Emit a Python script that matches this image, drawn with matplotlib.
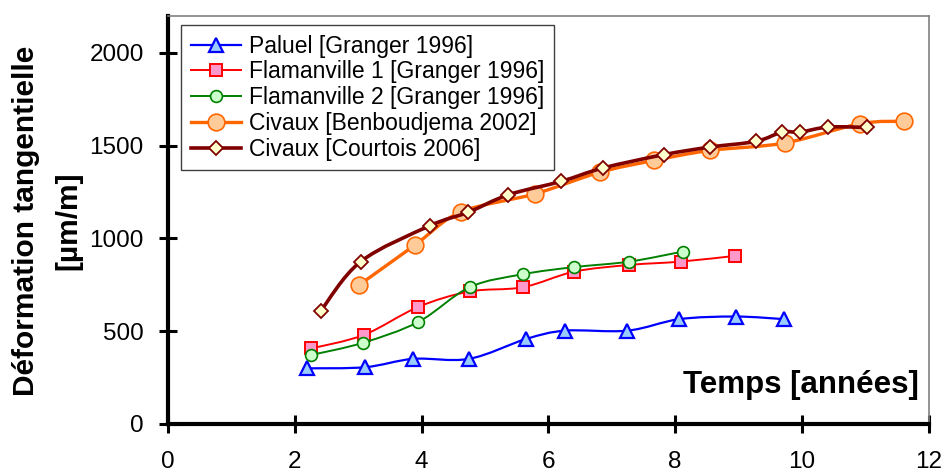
import numpy as np
import matplotlib
matplotlib.use("Agg")
import matplotlib.pyplot as plt
from matplotlib.path import Path
from matplotlib.patches import PathPatch
from matplotlib.lines import Line2D

plt.rcParams['font.family'] = ['Liberation Sans', 'DejaVu Sans']

# ---- data ----
paluel_x = [2.19, 3.11, 3.87, 4.75, 5.65, 6.27, 7.25, 8.07, 8.96, 9.72]
paluel_y = [300, 306, 351, 351, 458, 503, 503, 565, 579, 565]

flam1_x = [2.26, 3.09, 3.95, 4.76, 5.60, 6.41, 7.28, 8.09, 8.95]
flam1_y = [407, 480, 631, 714, 737, 821, 857, 875, 906]

flam2_x = [2.26, 3.07, 3.95, 4.76, 5.60, 6.40, 7.28, 8.12]
flam2_y = [372, 437, 550, 737, 807, 845, 875, 929]

civ_b_x = [3.02, 3.90, 4.62, 5.79, 6.81, 7.67, 8.55, 9.73, 10.92, 11.62]
civ_b_y = [750, 965, 1142, 1240, 1356, 1420, 1474, 1514, 1618, 1631]

civ_c_x = [2.41, 3.04, 4.13, 4.73, 5.37, 6.20, 6.86, 7.82, 8.55, 9.28, 9.69, 9.97, 10.42, 11.03]
civ_c_y = [609, 875, 1068, 1140, 1235, 1307, 1379, 1451, 1492, 1523, 1573, 1573, 1600, 1598]

labels = ["Paluel [Granger 1996]", "Flamanville 1 [Granger 1996]",
          "Flamanville 2 [Granger 1996]", "Civaux [Benboudjema 2002]",
          "Civaux [Courtois 2006]"]

x_ticks = [0, 2, 4, 6, 8, 10, 12]
y_ticks = [0, 500, 1000, 1500, 2000]

styles = [
    dict(color='#0000FF', lw=1.6, marker='^', ms=10, mfc='#99CCFF', mec='#0000FF', mew=1.6),
    dict(color='#FF0000', lw=1.4, marker='s', ms=8, mfc='#FF99CC', mec='#FF0000', mew=1.4),
    dict(color='#008000', lw=1.4, marker='o', ms=8.5, mfc='#CCFFCC', mec='#008000', mew=1.2),
    dict(color='#FF6600', lw=2.4, marker='o', ms=12, mfc='#FFCC99', mec='#FF6600', mew=1.2),
    dict(color='#800000', lw=2.6, marker='D', ms=7.5, mfc='#FFFFCC', mec='#800000', mew=1.3),
]

series = [(paluel_x, paluel_y), (flam1_x, flam1_y), (flam2_x, flam2_y),
          (civ_b_x, civ_b_y), (civ_c_x, civ_c_y)]


def smooth_path(x, y):
    p = np.column_stack([x, y]).astype(float)
    n = len(p)
    verts = [p[0]]
    codes = [Path.MOVETO]
    for i in range(n - 1):
        p0 = p[i - 1] if i > 0 else p[i]
        p1 = p[i]
        p2 = p[i + 1]
        p3 = p[i + 2] if i + 2 < n else p[i + 1]
        c1 = p1 + (p2 - p0) / 6.0
        c2 = p2 - (p3 - p1) / 6.0
        verts += [c1, c2, p2]
        codes += [Path.CURVE4] * 3
    return Path(np.array(verts), codes)


fig = plt.figure(figsize=(9.44, 4.72), dpi=100)
ax = fig.add_axes([168 / 944, 1 - 424 / 472, (928.5 - 168) / 944, (424 - 15.7) / 472])

handles = []
for k, ((xs, ys), st, lab) in enumerate(zip(series, styles, labels)):
    patch = PathPatch(smooth_path(xs, ys), fill=False, edgecolor=st['color'],
                      lw=st['lw'], zorder=2 + 2 * k, capstyle='round', joinstyle='round')
    ax.add_patch(patch)
    ax.plot(xs, ys, linestyle='none', marker=st['marker'], ms=st['ms'],
            mfc=st['mfc'], mec=st['mec'], mew=st['mew'], zorder=3 + 2 * k)
    handles.append(Line2D([], [], color=st['color'], lw=st['lw'], marker=st['marker'],
                          ms=st['ms'], mfc=st['mfc'], mec=st['mec'], mew=st['mew']))

ax.set_xlim(0, 12)
ax.set_ylim(0, 2200)
ax.set_xticks(x_ticks)
ax.set_yticks(y_ticks)
ax.tick_params(axis='both', direction='inout', length=13, width=2.2, labelsize=17.5,
               color='black')
ax.tick_params(axis='x', pad=13)
ax.tick_params(axis='y', pad=11)

for s in ['left', 'bottom']:
    ax.spines[s].set_linewidth(3)
    ax.spines[s].set_color('black')
for s in ['top', 'right']:
    ax.spines[s].set_linewidth(1.2)
    ax.spines[s].set_color('#808080')

leg = ax.legend(handles, labels, loc='upper left', bbox_to_anchor=(0.017, 0.977),
                borderaxespad=0, fontsize=16.5, frameon=True, fancybox=False,
                edgecolor='#404040', framealpha=1, borderpad=0.42, labelspacing=0.12,
                handlelength=2.2, handletextpad=0.35)
leg.get_frame().set_linewidth(1.0)
leg.set_zorder(20)

ax.text(0.988, 0.095, "Temps [années]", transform=ax.transAxes, ha='right', va='center',
        fontsize=22.5, fontweight='bold')

fig.text(26 / 944, 1 - 221 / 472, "Déformation tangentielle", rotation=90,
         ha='center', va='center', fontsize=21.5, fontweight='bold')
fig.text(68 / 944, 1 - 221 / 472, "[µm/m]", rotation=90,
         ha='center', va='center', fontsize=21.5, fontweight='bold')

fig.savefig("out.png", dpi=100)
